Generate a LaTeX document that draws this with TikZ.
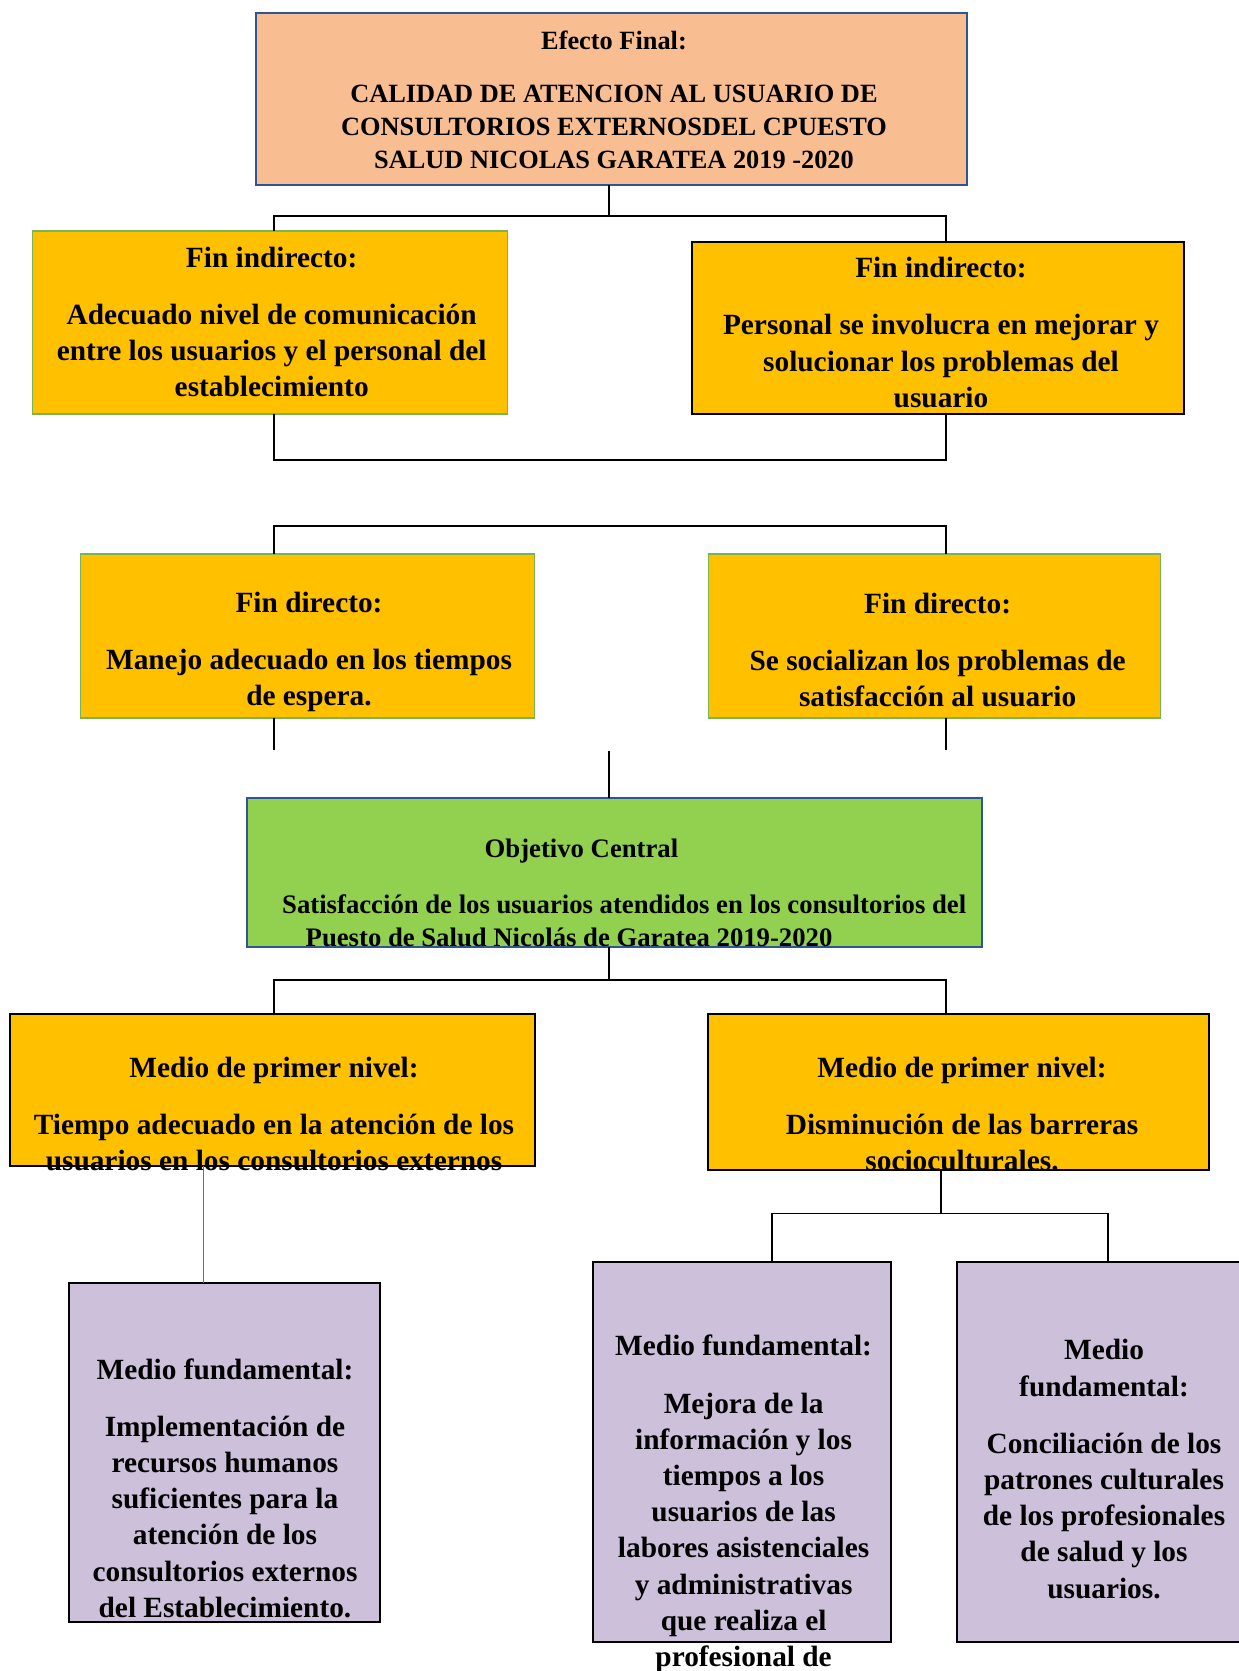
\documentclass[tikz,border=0pt]{standalone}
\usepackage{fontspec}
\setmainfont{Liberation Serif}
\usetikzlibrary{positioning}
\definecolor{peach}{RGB}{248,190,145}
\definecolor{amber}{RGB}{255,192,0}
\definecolor{lime}{RGB}{146,208,80}
\definecolor{lilac}{RGB}{204,192,218}
\definecolor{navy}{RGB}{47,85,151}
\definecolor{leaf}{RGB}{120,180,80}
\definecolor{wire}{RGB}{68,114,196}

\begin{document}
\begin{tikzpicture}[x=0.02cm, y=-0.02cm,
  box/.style={rectangle, inner sep=0pt, outer sep=0pt},
  efectobox/.style={box, fill=peach, draw=navy, line width=1.2pt},
  finbox/.style={box, fill=amber, draw=leaf, line width=0.6pt},
  mediobox/.style={box, fill=amber, draw=black, line width=1pt},
  objbox/.style={box, fill=lime, draw=navy, line width=1.2pt},
  fundbox/.style={box, fill=lilac, draw=black, line width=1pt},
  txt/.style={align=center, font=\bfseries\fontsize{16.7}{20.6}\selectfont},
  link/.style={line width=0.8pt}]
\useasboundingbox (0,0) rectangle (1239,1671);

% columns of the connectors
\foreach \n/\x in {colL/274, colM/609, colR/946, tapL/203, tapR/941, tapB/772, tapC/1108}
  \coordinate (\n) at (\x,0);

% boxes
\node [efectobox, minimum width=14.22cm, minimum height=3.44cm] (efecto) at (611.5,99) {};
\node [finbox, minimum width=9.52cm, minimum height=3.66cm] (fin-ind-1) at (270,322.5) {};
\node [mediobox, minimum width=9.84cm, minimum height=3.44cm] (fin-ind-2) at (938,328) {};
\node [finbox, minimum width=9.10cm, minimum height=3.28cm] (fin-dir-1) at (307.5,636) {};
\node [finbox, minimum width=9.06cm, minimum height=3.28cm] (fin-dir-2) at (934.5,636) {};
\node [objbox, minimum width=14.70cm, minimum height=2.98cm] (objetivo) at (614.5,872.5) {};
\node [mediobox, minimum width=10.50cm, minimum height=3.04cm] (medio-1) at (272.5,1090) {};
\node [mediobox, minimum width=10.02cm, minimum height=3.12cm] (medio-2) at (958.5,1092) {};
\node [fundbox, minimum width=6.22cm, minimum height=6.78cm] (mf-1) at (224.5,1452.5) {};
\node [fundbox, minimum width=5.96cm, minimum height=7.60cm] (mf-2) at (742,1452) {};
\node [fundbox, minimum width=5.80cm, minimum height=7.60cm] (mf-3) at (1102,1452) {};

% texts
\node [txt, font=\bfseries\fontsize{15}{18.8}\selectfont] (efecto-t) at (614,100)
  {Efecto Final:\\[11.5pt] CALIDAD DE ATENCION AL USUARIO DE\\ CONSULTORIOS EXTERNOSDEL CPUESTO\\ SALUD NICOLAS GARATEA 2019 -2020};
\node [txt] (fin-ind-1-t) at (271.7,322)
  {Fin indirecto:\\[12pt] Adecuado nivel de comunicación\\ entre los usuarios y el personal del\\ establecimiento};
\node [txt] (fin-ind-2-t) at (941,332.4)
  {Fin indirecto:\\[12pt] Personal se involucra en mejorar y\\ solucionar los problemas del\\ usuario};
\node [txt] (fin-dir-1-t) at (309,652)
  {Fin directo:\\[12pt] Manejo adecuado en los tiempos\\ de espera.};
\node [txt] (fin-dir-2-t) at (937.6,650)
  {Fin directo:\\[12pt] Se socializan los problemas de\\ satisfacción al usuario};
\node [txt, align=left, anchor=west, font=\bfseries\fontsize{15.2}{18.8}\selectfont] (objetivo-t) at (276,893)
  {\hspace*{4.05cm}Objetivo Central\\[12.7pt] Satisfacción de los usuarios atendidos en los consultorios del\\ \hspace*{0.47cm}Puesto de Salud Nicolás de Garatea 2019-2020};
\node [txt] (medio-1-t) at (274,1114)
  {Medio de primer nivel:\\[12pt] Tiempo adecuado en la atención de los\\ usuarios en los consultorios externos};
\node [txt] (medio-2-t) at (962,1114)
  {Medio de primer nivel:\\[12pt] Disminución de las barreras\\ socioculturales.};
\node [txt] (mf-1-t) at (225,1488)
  {Medio fundamental:\\[12pt] Implementación de\\ recursos humanos\\ suficientes para la\\ atención de los\\ consultorios externos\\ del Establecimiento.};
\node [txt] (mf-2-t) at (743.6,1504)
  {Medio fundamental:\\[12pt] Mejora de la\\ información y los\\ tiempos a los\\ usuarios de las\\ labores asistenciales\\ y administrativas\\ que realiza el\\ profesional de};
\node [txt] (mf-3-t) at (1104,1469)
  {Medio\\ fundamental:\\[12pt] Conciliación de los\\ patrones culturales\\ de los profesionales\\ de salud y los\\ usuarios.};

% efecto final to fines indirectos
\draw [link] (efecto.south -| colM) -- ++(0,31) -| (fin-ind-1.north -| colL);
\draw [link] (efecto.south -| colM) ++(0,31) -| (fin-ind-2.north -| colR);
\draw [link] (fin-ind-1.south -| colL) -- ++(0,46) -| (fin-ind-2.south -| colR);

% fines directos
\draw [link] (fin-dir-1.north -| colL) -- ++(0,-28) -| (fin-dir-2.north -| colR);
\draw [link] (fin-dir-1.south -| colL) -- ++(0,32);
\draw [link] (fin-dir-2.south -| colR) -- ++(0,32);
\draw [link] (objetivo.north -| colM) -- ++(0,-47);

% objetivo central to medios
\draw [link] (objetivo.south -| colM) -- ++(0,33) -| (medio-1.north -| colL);
\draw [link] (objetivo.south -| colM) ++(0,33) -| (medio-2.north -| colR);
\draw [wire, line width=0.5pt] (medio-1.south -| tapL) -- (mf-1.north -| tapL);
\draw [link] (medio-2.south -| tapR) -- ++(0,43.5) -| (mf-2.north -| tapB);
\draw [link] (medio-2.south -| tapR) ++(0,43.5) -| (mf-3.north -| tapC);
\end{tikzpicture}
\end{document}
